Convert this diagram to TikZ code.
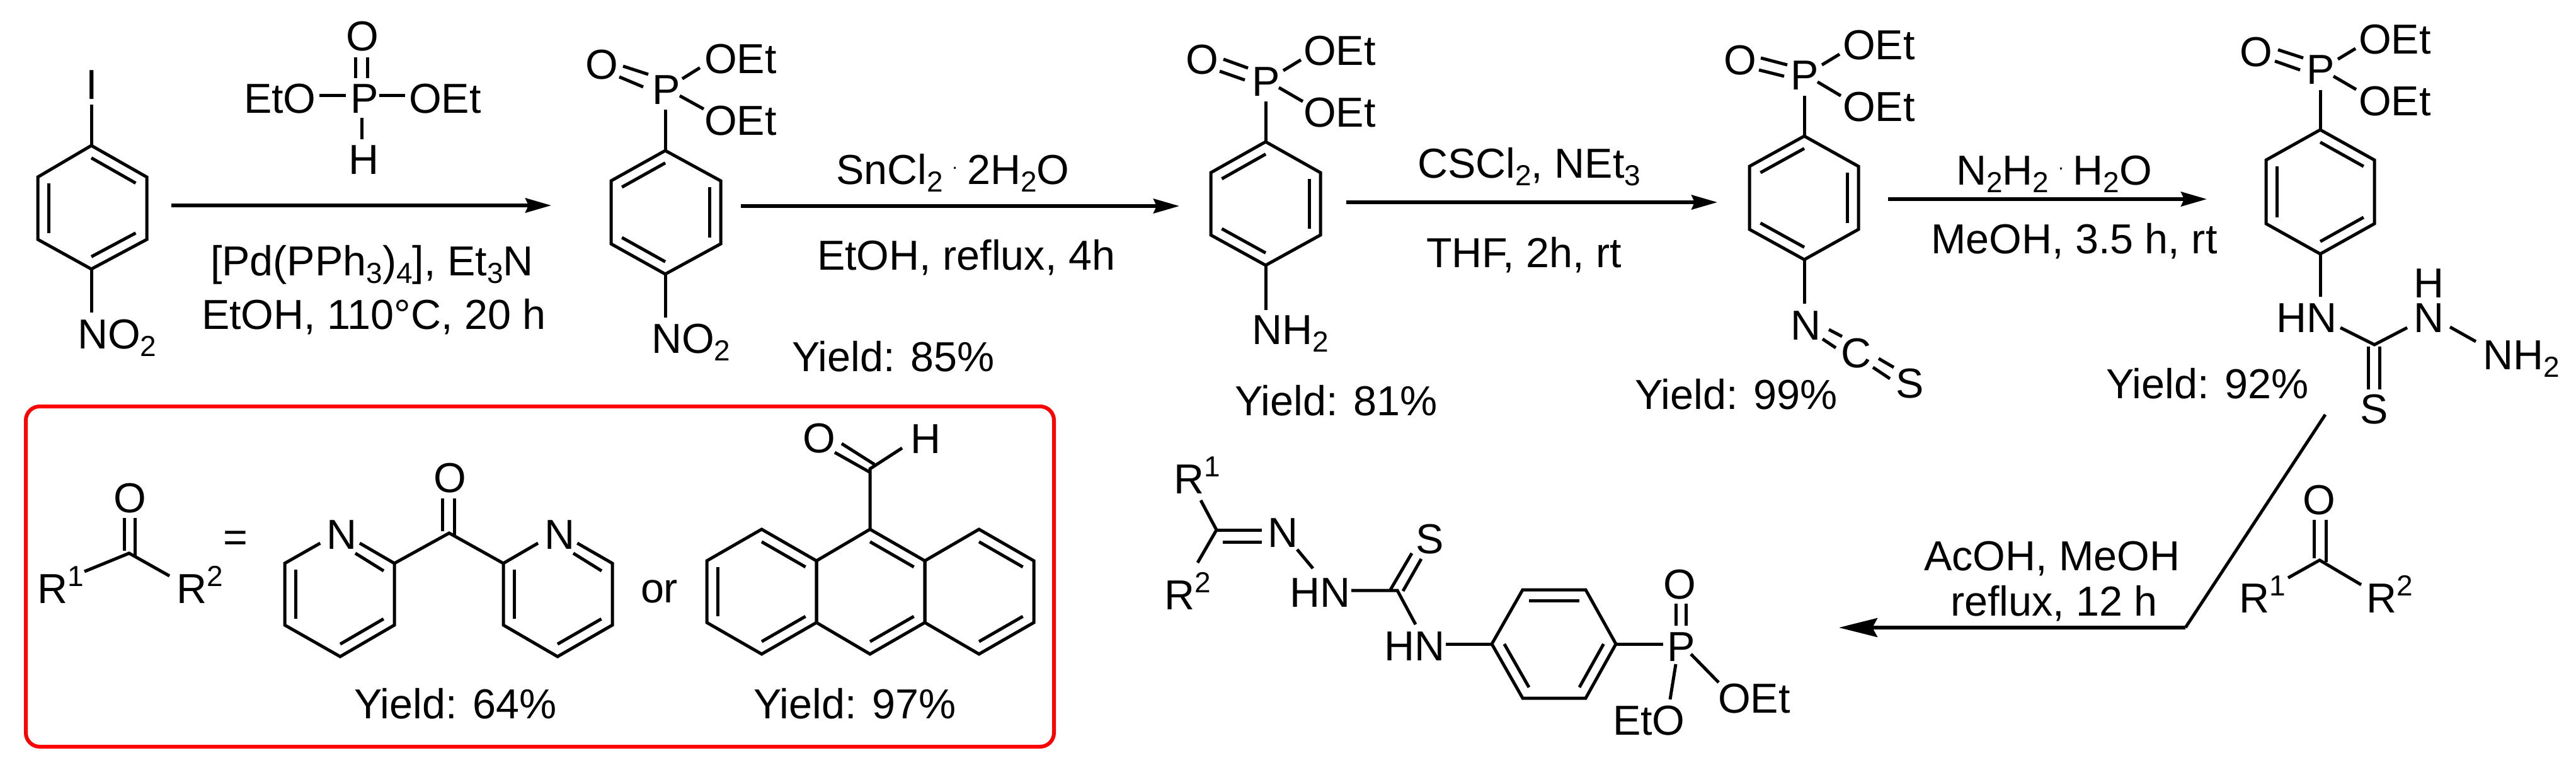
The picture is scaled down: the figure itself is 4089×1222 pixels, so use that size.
\documentclass[tikz,border=0pt]{standalone}
\usepackage{fontspec}
\setmainfont{Liberation Sans}
\usetikzlibrary{arrows.meta,calc}
\newcommand{\subx}[1]{\raisebox{-12pt}{\fontsize{46}{46}\selectfont #1}}
\newcommand{\supx}[1]{\raisebox{27pt}{\fontsize{46}{46}\selectfont #1}}
\newcommand{\cdotx}{\kern15pt\raisebox{24pt}{\fontsize{30}{30}\selectfont .}\kern15pt}
\tikzset{
  lbl/.style={inner sep=0pt,outer sep=0pt,anchor=base west,xshift=-3pt,font=\fontsize{66.5}{66.5}\selectfont},
  bond/.style={line width=5pt,black},
  rxn/.style={line width=5.5pt,black,-{Stealth[length=41pt,width=23pt,inset=5pt]}},
  rxnbig/.style={line width=5.5pt,black,-{Stealth[length=61pt,width=30pt,inset=8pt]}},
  redbox/.style={line width=6pt,red,rounded corners=22pt}
}
% ring with pointed top: name, xl, xm, xr, ytop, yupper, ylower, ybottom
\newcommand{\benzring}[8]{%
  \coordinate (#1-t) at (#3,#5);
  \coordinate (#1-tr) at (#4,#6);
  \coordinate (#1-br) at (#4,#7);
  \coordinate (#1-b) at (#3,#8);
  \coordinate (#1-bl) at (#2,#7);
  \coordinate (#1-tl) at (#2,#6);
  \coordinate (#1-c) at ($(#1-t)!.5!(#1-b)$);
  \draw[bond] (#1-t) -- (#1-tr) -- (#1-br) -- (#1-b) -- (#1-bl) -- (#1-tl) -- cycle;
}
\newcommand{\dblin}[3]{\draw[bond] ($(#2)!.2!(#1-c)$) -- ($(#3)!.2!(#1-c)$);}
\newcommand{\pyrid}[4]{%
  \coordinate (#1-t) at (#3,844);
  \coordinate (#1-tr) at (#4,894);
  \coordinate (#1-br) at (#4,992);
  \coordinate (#1-b) at (#3,1042);
  \coordinate (#1-bl) at (#2,992);
  \coordinate (#1-tl) at (#2,894);
  \coordinate (#1-c) at ($(#1-t)!.5!(#1-b)$);
  \draw[bond] ($(#1-tr)!.64!(#1-t)$) -- (#1-tr) -- (#1-br) -- (#1-b) -- (#1-bl) -- (#1-tl) -- ($(#1-tl)!.64!(#1-t)$);
  \dblin{#1}{#1-tl}{#1-bl}
  \dblin{#1}{#1-br}{#1-b}
  \draw[bond] ($(#1-tr)+(-17,12)$) -- ($(#1-tr)+(-62,-16)$);
}
\begin{document}
\begin{tikzpicture}[x=1pt,y=-1pt]
\useasboundingbox (0,0) rectangle (4089,1222);

% ---------- molecule 1: 4-iodonitrobenzene
\benzring{a}{60}{145}{233}{231}{281}{380}{427}
\dblin{a}{a-t}{a-tr}\dblin{a}{a-tl}{a-bl}\dblin{a}{a-br}{a-b}
\node[lbl] (aI) at (139,158) {I};
\draw[bond] (a-t) -- (145,166);
\draw[bond] (a-b) -- (145,496);
\node[lbl] (aN) at (126,553) {NO\subx{2}};

% ---------- reagent phosphite
\node[lbl] (rO) at (552,81) {O};
\node[lbl] (rEtO) at (390,180) {EtO};
\node[lbl] (rP) at (559,180) {P};
\node[lbl] (rOEt) at (652,180) {OEt};
\node[lbl] (rH) at (556,277) {H};
\draw[bond] (564,91) -- (564,124);
\draw[bond] (583,91) -- (583,124);
\draw[bond] (507,152) -- (549,152);
\draw[bond] (602,152) -- (643,152);
\draw[bond] (574,187) -- (574,221);
\node[lbl] (c1a) at (337,437) {[Pd(PPh\subx{3})\subx{4}], Et\subx{3}N};
\node[lbl] (c1b) at (323,522) {EtOH, 110°C, 20 h};
\coordinate (ar1s) at (272,326);
\coordinate (ar1e) at (875,326);
\draw[rxn] (ar1s) -- (ar1e);

% ---------- molecule 2
\benzring{b}{970}{1056}{1144}{239}{287}{387}{435}
\dblin{b}{b-tl}{b-t}\dblin{b}{b-tr}{b-br}\dblin{b}{b-bl}{b-b}
\draw[bond] (b-b) -- (1056,504);
\node[lbl] (bN) at (1037,560) {NO\subx{2}};
\draw[bond] (b-t) -- (1056,174);
\node[lbl] (bP) at (1038,166) {P};
\node[lbl] (bO) at (932,126) {O};
\node[lbl] (bE1) at (1121,117) {OEt};
\node[lbl] (bE2) at (1121,215) {OEt};
\draw[bond] (989,105) -- (1029,118);
\draw[bond] (983,122) -- (1021,138);
\draw[bond] (1083,125) -- (1111,107.5);
\draw[bond] (1079,152) -- (1117,173);
\node[lbl] (c2a) at (1330,293) {SnCl\subx{2}\cdotx 2H\subx{2}O};
\node[lbl] (c2b) at (1300,428) {EtOH, reflux, 4h};
\node[lbl] (y2) at (1260,589) {Yield: 85\%};
\coordinate (ar2s) at (1176,327);
\coordinate (ar2e) at (1872,327);
\draw[rxn] (ar2s) -- (ar2e);

% ---------- molecule 3
\benzring{c}{1922}{2009}{2096}{225}{274}{373}{421}
\dblin{c}{c-tl}{c-t}\dblin{c}{c-tr}{c-br}\dblin{c}{c-bl}{c-b}
\draw[bond] (c-b) -- (2009,492);
\node[lbl] (cN) at (1990,546) {NH\subx{2}};
\draw[bond] (c-t) -- (2009,161);
\node[lbl] (cP) at (1990,153) {P};
\node[lbl] (cO) at (1885,118) {O};
\node[lbl] (cE1) at (2072,104) {OEt};
\node[lbl] (cE2) at (2072,202) {OEt};
\draw[bond] (1942,94) -- (1981,108);
\draw[bond] (1936,113) -- (1976,127);
\draw[bond] (2037,112) -- (2065,95);
\draw[bond] (2030,139) -- (2068,161);
\node[lbl] (y3) at (1963,659) {Yield: 81\%};
\node[lbl] (c3a) at (2253,283) {CSCl\subx{2}, NEt\subx{3}};
\node[lbl] (c3b) at (2267,424) {THF, 2h, rt};
\coordinate (ar3s) at (2137,321);
\coordinate (ar3e) at (2726,321);
\draw[rxn] (ar3s) -- (ar3e);

% ---------- molecule 4
\benzring{d}{2777}{2864}{2950}{216}{264}{364}{412}
\dblin{d}{d-tl}{d-t}\dblin{d}{d-tr}{d-br}\dblin{d}{d-bl}{d-b}
\draw[bond] (d-t) -- (2864,152);
\node[lbl] (dP) at (2845,143) {P};
\node[lbl] (dO) at (2739,119) {O};
\node[lbl] (dE1) at (2928,95) {OEt};
\node[lbl] (dE2) at (2928,193) {OEt};
\draw[bond] (2795,92) -- (2837,103);
\draw[bond] (2792,111) -- (2832,121);
\draw[bond] (2892,103) -- (2920,86);
\draw[bond] (2885,130) -- (2922,152);
\draw[bond] (d-b) -- (2864,482);
\node[lbl] (dN) at (2845,539) {N};
\node[lbl] (dC) at (2925,583) {C};
\node[lbl] (dS) at (3012,631) {S};
\draw[bond] (2903,523) -- (2924,534);
\draw[bond] (2893,538) -- (2914,552);
\draw[bond] (2982,569) -- (3006,583);
\draw[bond] (2973,583) -- (3000,601);
\node[lbl] (y4) at (2598,649) {Yield: 99\%};
\node[lbl] (c4a) at (3108,294) {N\subx{2}H\subx{2}\cdotx H\subx{2}O};
\node[lbl] (c4b) at (3068,402) {MeOH, 3.5 h, rt};
\coordinate (ar4s) at (2997,316);
\coordinate (ar4e) at (3503,316);
\draw[rxn] (ar4s) -- (ar4e);

% ---------- molecule 5
\benzring{e}{3597}{3683}{3769}{206}{254}{355}{403}
\dblin{e}{e-t}{e-tr}\dblin{e}{e-tl}{e-bl}\dblin{e}{e-br}{e-b}
\draw[bond] (e-t) -- (3683,143);
\node[lbl] (eP) at (3664,134) {P};
\node[lbl] (eO) at (3558,106) {O};
\node[lbl] (eE1) at (3747,86) {OEt};
\node[lbl] (eE2) at (3747,184) {OEt};
\draw[bond] (3616,79) -- (3656,92);
\draw[bond] (3611,97) -- (3651,111);
\draw[bond] (3711,94) -- (3739,77);
\draw[bond] (3704,121) -- (3740,142);
\draw[bond] (e-b) -- (3683,471);
\node[lbl] (eHN) at (3616,527) {HN};
\coordinate (eC) at (3769,547);
\draw[bond] (3715,520) -- (eC) -- (3821,520);
\node[lbl] (eN) at (3834,527) {N};
\node[lbl] (eH) at (3834,472) {H};
\draw[bond] (3889,519) -- (3930,542);
\node[lbl] (eNH) at (3944,586) {NH\subx{2}};
\draw[bond] (3759,550) -- (3759,618);
\draw[bond] (3777,550) -- (3777,618);
\node[lbl] (eS) at (3749,672) {S};
\node[lbl] (y5) at (3346,632) {Yield: 92\%};

% ---------- last arrow
\coordinate (ar5s) at (3691,658);
\coordinate (ar5m) at (3469,996);
\coordinate (ar5e) at (2919,996);
\draw[line width=5pt,line join=miter] (ar5s) -- (ar5m);
\draw[rxnbig] (ar5m) -- (ar5e);
\node[lbl] (c5a) at (3057,905) {AcOH, MeOH};
\node[lbl] (c5b) at (3099,977) {reflux, 12 h};

% ---------- ketone right
\coordinate (fC) at (3682,889);
\node[lbl] (fO) at (3658,816) {O};
\draw[bond] (3673,825) -- (3673,886);
\draw[bond] (3692,825) -- (3692,892);
\draw[bond] (3632,917) -- (fC) -- (3748,928);
\node[lbl] (fR1) at (3557,972) {R\supx{1}};
\node[lbl] (fR2) at (3759,972) {R\supx{2}};

% ---------- final product
\node[lbl] (gR1) at (1866,783) {R\supx{1}};
\node[lbl] (gR2) at (1851,967) {R\supx{2}};
\coordinate (gC) at (1931,841);
\draw[bond] (1906,794) -- (gC) -- (1901,893);
\draw[bond] (1929,841) -- (2003,841);
\draw[bond] (1941,860) -- (2003,860);
\node[lbl] (gN) at (2015,868) {N};
\draw[bond] (2059,872) -- (2084,902);
\node[lbl] (gHN1) at (2050,963) {HN};
\coordinate (gCS) at (2218,937);
\draw[bond] (2145,937) -- (gCS) -- (2247,991);
\draw[bond] (2207,936) -- (2241,878);
\draw[bond] (2227,938) -- (2256,887);
\node[lbl] (gS) at (2250,878) {S};
\node[lbl] (gHN2) at (2200,1048) {HN};
\coordinate (g-l) at (2368,1022);
\coordinate (g-tl) at (2417,936);
\coordinate (g-tr) at (2517,936);
\coordinate (g-r) at (2565,1022);
\coordinate (g-br) at (2517,1108);
\coordinate (g-bl) at (2417,1108);
\coordinate (g-c) at (2467,1022);
\draw[bond] (g-l) -- (g-tl) -- (g-tr) -- (g-r) -- (g-br) -- (g-bl) -- cycle;
\dblin{g}{g-tl}{g-tr}\dblin{g}{g-l}{g-bl}\dblin{g}{g-r}{g-br}
\draw[bond] (2295,1022) -- (g-l);
\draw[bond] (g-r) -- (2640,1022);
\node[lbl] (gP) at (2649,1049) {P};
\node[lbl] (gO) at (2643,950) {O};
\draw[bond] (2660,958) -- (2660,993);
\draw[bond] (2676,958) -- (2676,993);
\node[lbl] (gE1) at (2730,1131) {OEt};
\node[lbl] (gE2) at (2563,1166) {EtO};
\draw[bond] (2684,1038) -- (2728,1083);
\draw[bond] (2660,1054) -- (2651,1110);

% ---------- red box
\draw[redbox] (41,645) rectangle (1673,1185);
\coordinate (hC) at (205,878);
\node[lbl] (hO) at (183,813) {O};
\draw[bond] (197,822) -- (197,874);
\draw[bond] (214,822) -- (214,882);
\draw[bond] (134,907) -- (hC) -- (269,914);
\node[lbl] (hR1) at (62,957) {R\supx{1}};
\node[lbl] (hR2) at (283,957) {R\supx{2}};
\node[lbl] (heq) at (357,875) {=};

\pyrid{p}{452}{540}{626}
\pyrid{q}{799}{885}{972}
\node[lbl] (pN) at (521,871) {N};
\node[lbl] (qN) at (867,871) {N};
\coordinate (pC) at (713,846);
\draw[bond] (p-tr) -- (pC) -- (q-tl);
\draw[bond] (702,791) -- (702,843);
\draw[bond] (721,791) -- (721,851);
\node[lbl] (pO) at (691,781) {O};
\node[lbl] (or) at (1020,956) {or};
\node[lbl] (y6) at (565,1140) {Yield: 64\%};

\benzring{u}{1122}{1209}{1296}{840}{890}{988}{1038}
\benzring{v}{1296}{1381}{1468}{840}{890}{988}{1038}
\benzring{w}{1468}{1554}{1641}{840}{890}{988}{1038}
\dblin{u}{u-t}{u-tr}\dblin{u}{u-tl}{u-bl}\dblin{u}{u-br}{u-b}
\dblin{v}{v-t}{v-tr}\dblin{v}{v-br}{v-b}
\dblin{w}{w-t}{w-tr}\dblin{w}{w-br}{w-b}
\coordinate (vC) at (1381,744);
\draw[bond] (v-t) -- (vC) -- (1432,711);
\draw[bond] (1388,737) -- (1336,704);
\draw[bond] (1380,749) -- (1325,718);
\node[lbl] (vO) at (1277,718) {O};
\node[lbl] (vH) at (1448,719) {H};
\node[lbl] (y7) at (1199,1140) {Yield: 97\%};
\end{tikzpicture}
\end{document}
